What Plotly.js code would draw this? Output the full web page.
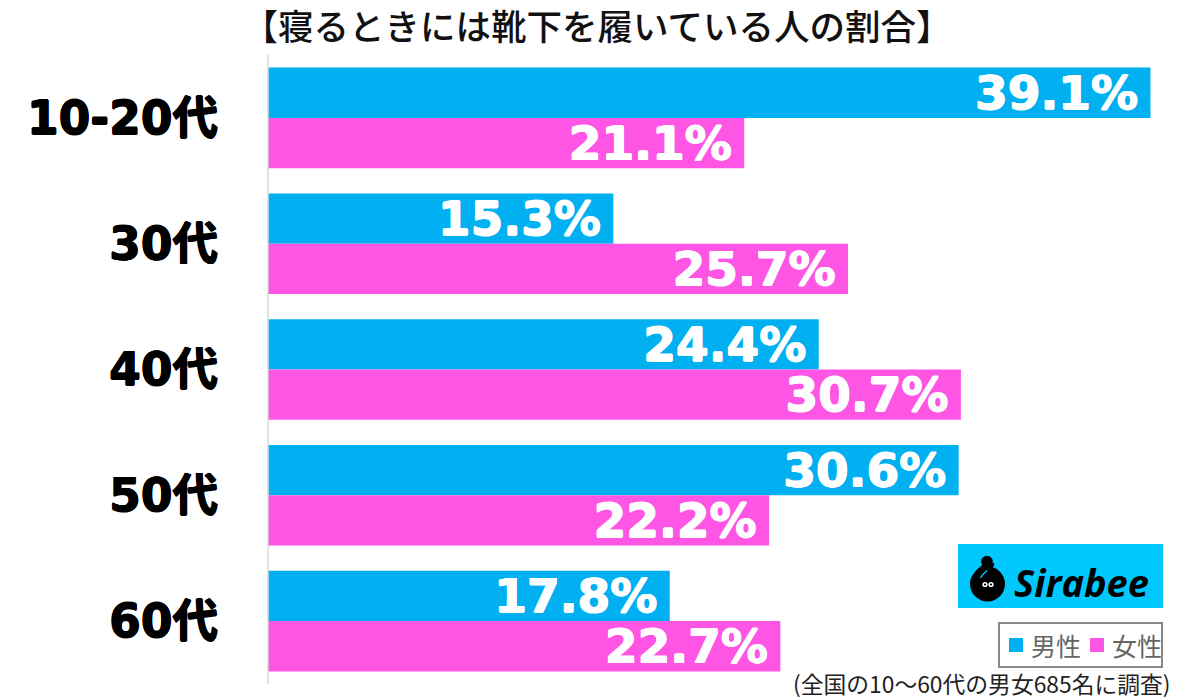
<!DOCTYPE html>
<html><head><meta charset="utf-8">
<script src="https://cdn.plot.ly/plotly-3.0.1.min.js"></script>
<style>html,body{margin:0;padding:0;background:#fff}#c{width:1200px;height:699px}</style>
</head><body><div id="c"></div>
<script>
const categories = ['10-20代','30代','40代','50代','60代'];
const male = [39.1,15.3,24.4,30.6,17.8];
const female = [21.1,25.7,30.7,22.2,22.7];
const seriesNames = ['男性','女性'];
const titleText = '【寝るときには靴下を履いている人の割合】';
const noteText = '(全国の10〜60代の男女685名に調査)';
const logoText = 'Sirabee';
const colorMale = '#00b0f0', colorFemale = '#ff55e5';

const W=1200,H=699,L=268,T=55,B=15;
const px=x=>(x-L)/(W-L), py=y=>1-(y-T)/(H-T-B);
const font='"Noto Sans CJK JP","Noto Sans",sans-serif';
const heavy='"DejaVu Sans","Noto Sans CJK JP",sans-serif';
const thick=c=>`0.7px 0 0 ${c},-0.7px 0 0 ${c},0 0.7px 0 ${c},0 -0.7px 0 ${c}`;
const mk=(name,vals,color)=>({type:'bar',orientation:'h',name,y:categories,x:vals,
  marker:{color},text:vals.map(v=>v.toFixed(1)+'%\u2009'),textposition:'inside',insidetextanchor:'end',
  constraintext:'none',textangle:0,
  insidetextfont:{family:heavy,size:47,color:'#fff',weight:700,shadow:thick('#fff')},hoverinfo:'skip'});
const P=(d)=>d.replace(/(-?[\d.]+),(-?[\d.]+)/g,(m,a,b)=>px(+a).toFixed(5)+','+py(+b).toFixed(5));
const rect=(x0,y0,x1,y1,fill,line)=>({type:'rect',xref:'paper',yref:'paper',layer:'above',x0:px(x0),x1:px(x1),y0:py(y0),y1:py(y1),fillcolor:fill,line:line||{width:0}});
const circ=(cx,cy,r,fill)=>({type:'circle',xref:'paper',yref:'paper',layer:'above',x0:px(cx-r),x1:px(cx+r),y0:py(cy-r),y1:py(cy+r),fillcolor:fill,line:{width:0}});
const stroke=(d,color,width)=>({type:'path',xref:'paper',yref:'paper',layer:'above',path:P(d),line:{color,width},fillcolor:'rgba(0,0,0,0)'});
const shapes=[
  rect(958,544,1163,608,'#00c8ff'),
  circ(987.5,584,17.5,'#000'),
  stroke('M 977,580 C 978,571 986,572 990,562','#000',10),
  circ(987,561.5,5.8,'#000'),
  stroke('M 980.5,578 C 982,575 984,573 987,570.5','#00c8ff',1.5),
  circ(985,584.5,2.6,'#fff'),circ(991,584.5,2.6,'#fff'),circ(985,584.5,1.1,'#000'),circ(991,584.5,1.1,'#000'),
  {type:'line',xref:'paper',yref:'paper',x0:0,x1:0,y0:0,y1:1,line:{color:'#d9d9d9',width:1.5},layer:'above'},
  rect(999,623,1162,667,'#fff',{color:'#888',width:2}),
  rect(1009,638,1023,652,colorMale),
  rect(1090,638,1104,652,colorFemale)
];
const note=(x,y,anchor,text,f)=>({xref:'paper',yref:'paper',x:px(x),y:py(y),xanchor:anchor,yanchor:'middle',showarrow:false,text,font:f,borderpad:0});
const layout={width:W,height:H,margin:{l:L,r:0,t:T,b:B,pad:0},paper_bgcolor:'#fff',plot_bgcolor:'#fff',
  barmode:'group',bargap:0.2,bargroupgap:0,showlegend:false,
  font:{family:font},
  title:{text:titleText,font:{family:font,size:35.5,color:'#111',weight:500},x:597/W,xanchor:'center',y:1-28/H,yanchor:'middle'},
  xaxis:{range:[0,(W-L)/22.57],visible:false,fixedrange:true},
  yaxis:{autorange:'reversed',showgrid:false,zeroline:false,showline:false,ticks:'',ticklabelstandoff:49,
    tickfont:{family:heavy,size:45.5,color:'#000',weight:700,shadow:thick('#000')},fixedrange:true},
  shapes,
  annotations:[
    note(1172,683,'right',noteText,{family:font,size:22.8,color:'#222'}),
    note(1013,582,'left','<b><i>'+logoText+'</i></b>',{family:'"Open Sans",sans-serif',size:38,color:'#000'}),
    note(1030,645,'left',seriesNames[0],{family:font,size:25,color:'#666'}),
    note(1111,645,'left',seriesNames[1],{family:font,size:25,color:'#666'})
  ]
};
Plotly.newPlot('c',[mk(seriesNames[0],male,colorMale),mk(seriesNames[1],female,colorFemale)],layout,{displayModeBar:false});
</script></body></html>
